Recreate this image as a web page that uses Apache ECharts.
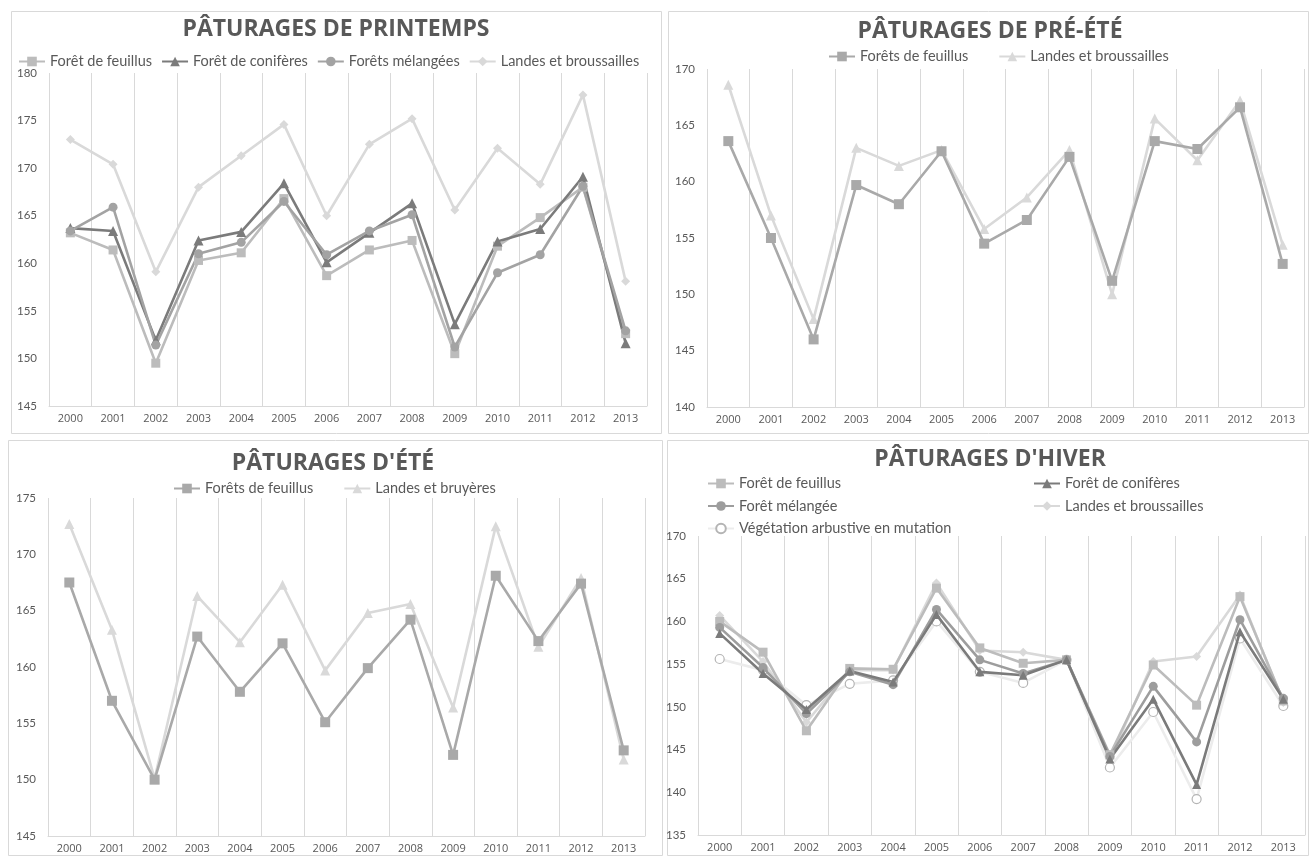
<!DOCTYPE html>
<html>
<head>
<meta charset="utf-8">
<script src="https://cdn.jsdelivr.net/npm/echarts@6/dist/echarts.min.js"></script>
<style>
html,body{margin:0;padding:0;background:#fff;}
#c{width:1310px;height:857px;}
</style>
</head>
<body>
<div id="c"></div>
<script>
const years = ['2000','2001','2002','2003','2004','2005','2006','2007','2008','2009','2010','2011','2012','2013'];

// Pâturages de printemps
const p1Feuillus   = [163.2,161.4,149.5,160.3,161.1,166.8,158.7,161.4,162.4,150.5,161.8,164.8,168.0,152.6];
const p1Coniferes  = [163.7,163.4,151.9,162.4,163.3,168.4,160.1,163.2,166.3,153.6,162.3,163.6,169.1,151.6];
const p1Melangees  = [163.4,165.9,151.4,161.0,162.2,166.5,160.9,163.4,165.1,151.2,159.0,160.9,168.1,152.9];
const p1Landes     = [173.0,170.4,159.1,168.0,171.3,174.6,165.0,172.5,175.2,165.6,172.1,168.3,177.7,158.1];

// Pâturages de pré-été
const p2Feuillus   = [163.6,155.0,146.0,159.7,158.0,162.7,154.5,156.6,162.2,151.2,163.6,162.9,166.6,152.7];
const p2Landes     = [168.6,157.0,147.8,163.0,161.4,162.8,155.8,158.6,162.8,150.0,165.6,161.9,167.2,154.4];

// Pâturages d'été
const p3Feuillus   = [167.5,157.0,150.0,162.7,157.8,162.1,155.1,159.9,164.2,152.2,168.1,162.3,167.4,152.6];
const p3Landes     = [172.7,163.3,150.1,166.3,162.2,167.3,159.7,164.8,165.6,156.4,172.5,161.8,167.9,151.8];

// Pâturages d'hiver
const p4Feuillus   = [160.0,156.4,147.2,154.5,154.4,163.9,156.9,155.1,155.5,144.4,154.9,150.2,162.9,150.7];
const p4Coniferes  = [158.6,153.9,149.7,154.2,152.9,160.8,154.1,153.7,155.5,143.9,150.9,140.9,158.8,150.9];
const p4Melangee   = [159.3,154.6,149.2,154.1,152.6,161.4,155.5,153.9,155.5,144.2,152.4,145.9,160.2,151.0];
const p4Landes     = [160.7,155.3,148.2,154.3,154.3,164.5,156.6,156.4,155.5,143.9,155.3,155.9,163.1,150.5];
const p4Vegetation = [155.6,154.3,150.2,152.7,153.1,160.0,154.1,152.8,155.5,142.9,149.4,139.2,158.0,150.1];

const titles = ['PÂTURAGES DE PRINTEMPS','PÂTURAGES DE PRÉ-ÉTÉ',"PÂTURAGES D'ÉTÉ","PÂTURAGES D'HIVER"];

const FONT = 'Lato';
const TXT = '#595959';
const GRID_C = '#d9d9d9';

const grids = [
  {left:49, right:663, top:73, bottom:451},
  {left:707, right:6, top:69, bottom:450},
  {left:48, right:665, top:498, bottom:21},
  {left:698, right:5, top:536, bottom:22}
];
const yRanges = [[145,180],[140,170],[145,175],[135,170]];

const xAxes = grids.map((g,i)=>({
  type:'category', gridIndex:i, data:years, boundaryGap:true,
  axisLine:{show:true, lineStyle:{color:GRID_C, width:1}},
  axisTick:{show:false},
  splitLine:{show:true, lineStyle:{color:GRID_C, width:1}},
  axisLabel:{color:TXT, fontFamily:'Open Sans', fontSize:11, margin:7}
}));
const yAxes = yRanges.map((r,i)=>({
  type:'value', gridIndex:i, min:r[0], max:r[1], interval:5,
  axisLine:{show:false}, axisTick:{show:false}, splitLine:{show:false},
  axisLabel:{color:TXT, fontFamily:FONT, fontSize:11.5, margin:12}
}));

function S(name, idx, data, color, symbol, size, extra){
  const s = {
    name:name, type:'line', xAxisIndex:idx, yAxisIndex:idx, data:data,
    symbol:symbol, symbolSize:size, showSymbol:true,
    lineStyle:{color:color, width:2.6},
    itemStyle:{color:color},
    emphasis:{disabled:true}, animation:false, z: 2
  };
  if (extra) Object.assign(s, extra);
  return s;
}

const C_FEU = '#bcbcbc', C_CON = '#7b7b7b', C_MEL = '#a3a3a3', C_LAN = '#d9d9d9';
const C_FEU2 = '#a9a9a9';

const series = [
  S('Forêt de feuillus|1',0,p1Feuillus,C_FEU,'rect',9),
  S('Forêt de conifères|1',0,p1Coniferes,C_CON,'triangle',10),
  S('Forêts mélangées|1',0,p1Melangees,C_MEL,'circle',9),
  S('Landes et broussailles|1',0,p1Landes,C_LAN,'diamond',9,{z:1}),

  S('Forêts de feuillus|2',1,p2Feuillus,C_FEU2,'rect',10),
  S('Landes et broussailles|2',1,p2Landes,C_LAN,'triangle',10,{z:1}),

  S('Forêts de feuillus|3',2,p3Feuillus,C_FEU2,'rect',10),
  S('Landes et bruyères|3',2,p3Landes,C_LAN,'triangle',10,{z:1}),

  S('Végétation arbustive en mutation|4',3,p4Vegetation,'#ececec','circle',9,{
    itemStyle:{color:'#ffffff', borderColor:'#b4b4b4', borderWidth:1.2}, z:1}),
  S('Landes et broussailles|4',3,p4Landes,C_LAN,'diamond',9,{z:1}),
  S('Forêt de feuillus|4',3,p4Feuillus,C_FEU,'rect',9),
  S('Forêt mélangée|4',3,p4Melangee,'#9d9d9d','circle',9),
  S('Forêt de conifères|4',3,p4Coniferes,C_CON,'triangle',9)
];

const legendBase = {
  padding:0, itemWidth:26, itemHeight:12, itemGap:9, selectedMode:false,
  textStyle:{color:TXT, fontFamily:FONT, fontSize:14.5},
  formatter:function(n){return n.split('|')[0];}
};
function L(extra){ return Object.assign({}, legendBase, extra); }

const legends = [
  L({left:18, top:54, data:['Forêt de feuillus|1','Forêt de conifères|1','Forêts mélangées|1','Landes et broussailles|1']}),
  L({left:828, top:49, itemGap:30, data:['Forêts de feuillus|2','Landes et broussailles|2']}),
  L({left:173, top:481, itemGap:30, data:['Forêts de feuillus|3','Landes et bruyères|3']}),
  L({left:707, top:476, orient:'vertical', itemGap:7.5, data:['Forêt de feuillus|4','Forêt mélangée|4','Végétation arbustive en mutation|4']}),
  L({left:1033, top:476, orient:'vertical', itemGap:7.5, data:['Forêt de conifères|4','Landes et broussailles|4']})
];

const titleCenters = [[336,18],[990,20],[333,452],[990,448]];
const titleOpts = titles.map((t,i)=>({
  text:t, left:titleCenters[i][0], top:titleCenters[i][1], textAlign:'center', padding:0,
  textStyle:{color:TXT, fontFamily:'Open Sans', fontWeight:'bold', fontSize:23}
}));

const boxes = [[11,11,650,422],[668,11,640,422],[8,440,654,415],[667,440,641,415]];
const graphic = boxes.map(b=>({
  type:'rect', shape:{x:b[0]+0.5,y:b[1]+0.5,width:b[2],height:b[3]},
  style:{fill:'none', stroke:GRID_C, lineWidth:1}, silent:true, z:-1
}));

const chart = echarts.init(document.getElementById('c'), null, {renderer:'canvas'});
chart.setOption({
  backgroundColor:'#ffffff',
  animation:false,
  title:titleOpts,
  legend:legends,
  grid:grids.map(g=>Object.assign({containLabel:false}, g)),
  xAxis:xAxes,
  yAxis:yAxes,
  series:series,
  graphic:graphic
});
</script>
</body>
</html>
